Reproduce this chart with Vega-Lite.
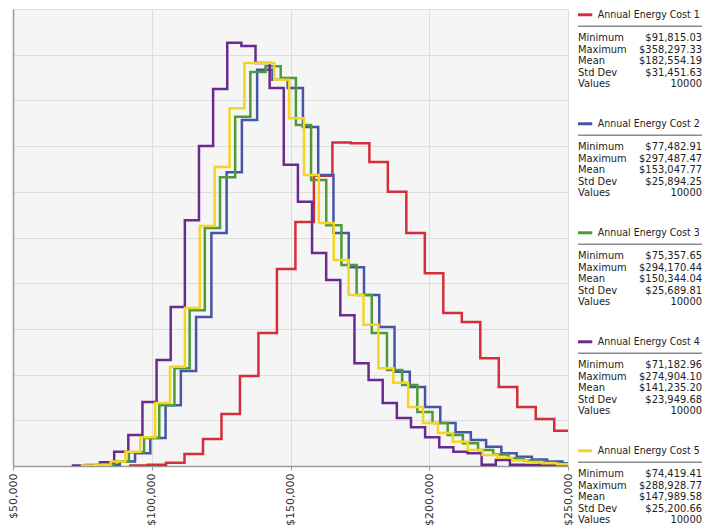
{
  "$schema": "https://vega.github.io/schema/vega-lite/v6.json",
  "padding": {"left": 7, "top": 9, "right": 2, "bottom": 0},
  "background": "white",
  "config": {"view": {"stroke": null}, "font": "DejaVu Sans"},
  "spacing": 3,
  "datasets": {
    "hist": [
      {"s": "Annual Energy Cost 1", "x": 91815.03, "d": 0.01},
      {"s": "Annual Energy Cost 1", "x": 98477.09, "d": 0.03},
      {"s": "Annual Energy Cost 1", "x": 105139.15, "d": 0.07},
      {"s": "Annual Energy Cost 1", "x": 111801.20, "d": 0.26},
      {"s": "Annual Energy Cost 1", "x": 118463.26, "d": 0.59},
      {"s": "Annual Energy Cost 1", "x": 125125.32, "d": 1.14},
      {"s": "Annual Energy Cost 1", "x": 131787.38, "d": 1.97},
      {"s": "Annual Energy Cost 1", "x": 138449.43, "d": 2.91},
      {"s": "Annual Energy Cost 1", "x": 145111.49, "d": 4.31},
      {"s": "Annual Energy Cost 1", "x": 151773.55, "d": 5.34},
      {"s": "Annual Energy Cost 1", "x": 158435.61, "d": 6.35},
      {"s": "Annual Energy Cost 1", "x": 165097.66, "d": 7.08},
      {"s": "Annual Energy Cost 1", "x": 171759.72, "d": 7.06},
      {"s": "Annual Energy Cost 1", "x": 178421.78, "d": 6.65},
      {"s": "Annual Energy Cost 1", "x": 185083.84, "d": 6.0},
      {"s": "Annual Energy Cost 1", "x": 191745.89, "d": 5.10},
      {"s": "Annual Energy Cost 1", "x": 198407.95, "d": 4.22},
      {"s": "Annual Energy Cost 1", "x": 205070.01, "d": 3.35},
      {"s": "Annual Energy Cost 1", "x": 211732.07, "d": 3.15},
      {"s": "Annual Energy Cost 1", "x": 218394.12, "d": 2.36},
      {"s": "Annual Energy Cost 1", "x": 225056.18, "d": 1.73},
      {"s": "Annual Energy Cost 1", "x": 231718.24, "d": 1.29},
      {"s": "Annual Energy Cost 1", "x": 238380.30, "d": 1.03},
      {"s": "Annual Energy Cost 1", "x": 245042.35, "d": 0.77},
      {"s": "Annual Energy Cost 1", "x": 251704.41, "d": 0.6},

      {"s": "Annual Energy Cost 2", "x": 77482.91, "d": 0.01},
      {"s": "Annual Energy Cost 2", "x": 82983.02, "d": 0.03},
      {"s": "Annual Energy Cost 2", "x": 88483.14, "d": 0.1},
      {"s": "Annual Energy Cost 2", "x": 93983.25, "d": 0.28},
      {"s": "Annual Energy Cost 2", "x": 99483.37, "d": 0.61},
      {"s": "Annual Energy Cost 2", "x": 104983.48, "d": 1.33},
      {"s": "Annual Energy Cost 2", "x": 110483.59, "d": 2.08},
      {"s": "Annual Energy Cost 2", "x": 115983.71, "d": 3.26},
      {"s": "Annual Energy Cost 2", "x": 121483.82, "d": 5.10},
      {"s": "Annual Energy Cost 2", "x": 126983.94, "d": 6.43},
      {"s": "Annual Energy Cost 2", "x": 132484.05, "d": 7.57},
      {"s": "Annual Energy Cost 2", "x": 137984.16, "d": 8.67},
      {"s": "Annual Energy Cost 2", "x": 143484.28, "d": 8.45},
      {"s": "Annual Energy Cost 2", "x": 148984.39, "d": 8.27},
      {"s": "Annual Energy Cost 2", "x": 154484.51, "d": 7.42},
      {"s": "Annual Energy Cost 2", "x": 159984.62, "d": 6.37},
      {"s": "Annual Energy Cost 2", "x": 165484.73, "d": 5.10},
      {"s": "Annual Energy Cost 2", "x": 170984.85, "d": 4.35},
      {"s": "Annual Energy Cost 2", "x": 176484.96, "d": 3.74},
      {"s": "Annual Energy Cost 2", "x": 181985.08, "d": 3.04},
      {"s": "Annual Energy Cost 2", "x": 187485.19, "d": 2.06},
      {"s": "Annual Energy Cost 2", "x": 192985.30, "d": 1.73},
      {"s": "Annual Energy Cost 2", "x": 198485.42, "d": 1.29},
      {"s": "Annual Energy Cost 2", "x": 203985.53, "d": 0.94},
      {"s": "Annual Energy Cost 2", "x": 209485.65, "d": 0.74},
      {"s": "Annual Energy Cost 2", "x": 214985.76, "d": 0.57},
      {"s": "Annual Energy Cost 2", "x": 220485.87, "d": 0.42},
      {"s": "Annual Energy Cost 2", "x": 225985.99, "d": 0.28},
      {"s": "Annual Energy Cost 2", "x": 231486.10, "d": 0.2},
      {"s": "Annual Energy Cost 2", "x": 236986.22, "d": 0.14},
      {"s": "Annual Energy Cost 2", "x": 242486.33, "d": 0.1},
      {"s": "Annual Energy Cost 2", "x": 247986.44, "d": 0.06},
      {"s": "Annual Energy Cost 2", "x": 253486.56, "d": 0.04},

      {"s": "Annual Energy Cost 3", "x": 75357.65, "d": 0.01},
      {"s": "Annual Energy Cost 3", "x": 80827.97, "d": 0.03},
      {"s": "Annual Energy Cost 3", "x": 86298.29, "d": 0.1},
      {"s": "Annual Energy Cost 3", "x": 91768.61, "d": 0.3},
      {"s": "Annual Energy Cost 3", "x": 97238.93, "d": 0.61},
      {"s": "Annual Energy Cost 3", "x": 102709.25, "d": 1.33},
      {"s": "Annual Energy Cost 3", "x": 108179.57, "d": 2.14},
      {"s": "Annual Energy Cost 3", "x": 113649.89, "d": 3.41},
      {"s": "Annual Energy Cost 3", "x": 119120.21, "d": 5.21},
      {"s": "Annual Energy Cost 3", "x": 124590.53, "d": 6.32},
      {"s": "Annual Energy Cost 3", "x": 130060.85, "d": 7.64},
      {"s": "Annual Energy Cost 3", "x": 135531.17, "d": 8.62},
      {"s": "Annual Energy Cost 3", "x": 141001.49, "d": 8.75},
      {"s": "Annual Energy Cost 3", "x": 146471.81, "d": 8.49},
      {"s": "Annual Energy Cost 3", "x": 151942.13, "d": 7.46},
      {"s": "Annual Energy Cost 3", "x": 157412.45, "d": 6.26},
      {"s": "Annual Energy Cost 3", "x": 162882.77, "d": 5.27},
      {"s": "Annual Energy Cost 3", "x": 168353.09, "d": 4.40},
      {"s": "Annual Energy Cost 3", "x": 173823.41, "d": 3.74},
      {"s": "Annual Energy Cost 3", "x": 179293.73, "d": 2.91},
      {"s": "Annual Energy Cost 3", "x": 184764.05, "d": 2.10},
      {"s": "Annual Energy Cost 3", "x": 190234.37, "d": 1.77},
      {"s": "Annual Energy Cost 3", "x": 195704.69, "d": 1.18},
      {"s": "Annual Energy Cost 3", "x": 201175.01, "d": 0.94},
      {"s": "Annual Energy Cost 3", "x": 206645.33, "d": 0.68},
      {"s": "Annual Energy Cost 3", "x": 212115.65, "d": 0.5},
      {"s": "Annual Energy Cost 3", "x": 217585.97, "d": 0.35},
      {"s": "Annual Energy Cost 3", "x": 223056.29, "d": 0.25},
      {"s": "Annual Energy Cost 3", "x": 228526.61, "d": 0.17},
      {"s": "Annual Energy Cost 3", "x": 233996.93, "d": 0.12},
      {"s": "Annual Energy Cost 3", "x": 239467.25, "d": 0.08},
      {"s": "Annual Energy Cost 3", "x": 244937.57, "d": 0.05},
      {"s": "Annual Energy Cost 3", "x": 250407.89, "d": 0.03},

      {"s": "Annual Energy Cost 4", "x": 71182.96, "d": 0.01},
      {"s": "Annual Energy Cost 4", "x": 76275.99, "d": 0.02},
      {"s": "Annual Energy Cost 4", "x": 81369.02, "d": 0.08},
      {"s": "Annual Energy Cost 4", "x": 86462.05, "d": 0.31},
      {"s": "Annual Energy Cost 4", "x": 91555.08, "d": 0.68},
      {"s": "Annual Energy Cost 4", "x": 96648.11, "d": 1.40},
      {"s": "Annual Energy Cost 4", "x": 101741.14, "d": 2.32},
      {"s": "Annual Energy Cost 4", "x": 106834.17, "d": 3.48},
      {"s": "Annual Energy Cost 4", "x": 111927.20, "d": 5.38},
      {"s": "Annual Energy Cost 4", "x": 117020.23, "d": 7.00},
      {"s": "Annual Energy Cost 4", "x": 122113.26, "d": 8.25},
      {"s": "Annual Energy Cost 4", "x": 127206.29, "d": 9.26},
      {"s": "Annual Energy Cost 4", "x": 132299.32, "d": 9.19},
      {"s": "Annual Energy Cost 4", "x": 137392.35, "d": 8.82},
      {"s": "Annual Energy Cost 4", "x": 142485.38, "d": 8.27},
      {"s": "Annual Energy Cost 4", "x": 147578.41, "d": 6.59},
      {"s": "Annual Energy Cost 4", "x": 152671.44, "d": 5.78},
      {"s": "Annual Energy Cost 4", "x": 157764.47, "d": 4.66},
      {"s": "Annual Energy Cost 4", "x": 162857.50, "d": 4.07},
      {"s": "Annual Energy Cost 4", "x": 167950.53, "d": 3.30},
      {"s": "Annual Energy Cost 4", "x": 173043.56, "d": 2.25},
      {"s": "Annual Energy Cost 4", "x": 178136.59, "d": 1.88},
      {"s": "Annual Energy Cost 4", "x": 183229.62, "d": 1.38},
      {"s": "Annual Energy Cost 4", "x": 188322.65, "d": 1.05},
      {"s": "Annual Energy Cost 4", "x": 193415.68, "d": 0.85},
      {"s": "Annual Energy Cost 4", "x": 198508.71, "d": 0.63},
      {"s": "Annual Energy Cost 4", "x": 203601.74, "d": 0.41},
      {"s": "Annual Energy Cost 4", "x": 208694.77, "d": 0.31},
      {"s": "Annual Energy Cost 4", "x": 213787.80, "d": 0.28},
      {"s": "Annual Energy Cost 4", "x": 218880.83, "d": 0.03},
      {"s": "Annual Energy Cost 4", "x": 223973.86, "d": 0.13},
      {"s": "Annual Energy Cost 4", "x": 229066.89, "d": 0.03},
      {"s": "Annual Energy Cost 4", "x": 234159.92, "d": 0.02},
      {"s": "Annual Energy Cost 4", "x": 239252.95, "d": 0.02},
      {"s": "Annual Energy Cost 4", "x": 244345.98, "d": 0.02},
      {"s": "Annual Energy Cost 4", "x": 249439.01, "d": 0.01},
      {"s": "Annual Energy Cost 4", "x": 254532.04, "d": 0.01},

      {"s": "Annual Energy Cost 5", "x": 74419.41, "d": 0.01},
      {"s": "Annual Energy Cost 5", "x": 79782.14, "d": 0.03},
      {"s": "Annual Energy Cost 5", "x": 85144.88, "d": 0.1},
      {"s": "Annual Energy Cost 5", "x": 90507.61, "d": 0.31},
      {"s": "Annual Energy Cost 5", "x": 95870.35, "d": 0.63},
      {"s": "Annual Energy Cost 5", "x": 101233.08, "d": 1.38},
      {"s": "Annual Energy Cost 5", "x": 106595.81, "d": 2.17},
      {"s": "Annual Energy Cost 5", "x": 111958.55, "d": 3.46},
      {"s": "Annual Energy Cost 5", "x": 117321.28, "d": 5.25},
      {"s": "Annual Energy Cost 5", "x": 122684.02, "d": 6.54},
      {"s": "Annual Energy Cost 5", "x": 128046.75, "d": 7.83},
      {"s": "Annual Energy Cost 5", "x": 133409.48, "d": 8.82},
      {"s": "Annual Energy Cost 5", "x": 138772.22, "d": 8.82},
      {"s": "Annual Energy Cost 5", "x": 144134.95, "d": 8.45},
      {"s": "Annual Energy Cost 5", "x": 149497.69, "d": 7.61},
      {"s": "Annual Energy Cost 5", "x": 154860.42, "d": 6.37},
      {"s": "Annual Energy Cost 5", "x": 160223.15, "d": 5.32},
      {"s": "Annual Energy Cost 5", "x": 165585.89, "d": 4.51},
      {"s": "Annual Energy Cost 5", "x": 170948.62, "d": 3.74},
      {"s": "Annual Energy Cost 5", "x": 176311.36, "d": 3.09},
      {"s": "Annual Energy Cost 5", "x": 181674.09, "d": 2.14},
      {"s": "Annual Energy Cost 5", "x": 187036.82, "d": 1.82},
      {"s": "Annual Energy Cost 5", "x": 192399.56, "d": 1.29},
      {"s": "Annual Energy Cost 5", "x": 197762.29, "d": 0.94},
      {"s": "Annual Energy Cost 5", "x": 203125.03, "d": 0.72},
      {"s": "Annual Energy Cost 5", "x": 208487.76, "d": 0.53},
      {"s": "Annual Energy Cost 5", "x": 213850.49, "d": 0.35},
      {"s": "Annual Energy Cost 5", "x": 219213.23, "d": 0.24},
      {"s": "Annual Energy Cost 5", "x": 224575.96, "d": 0.18},
      {"s": "Annual Energy Cost 5", "x": 229938.70, "d": 0.12},
      {"s": "Annual Energy Cost 5", "x": 235301.43, "d": 0.08},
      {"s": "Annual Energy Cost 5", "x": 240664.16, "d": 0.06},
      {"s": "Annual Energy Cost 5", "x": 246026.90, "d": 0.04},
      {"s": "Annual Energy Cost 5", "x": 251389.63, "d": 0.03}
    ],
    "stats": [
      {"s": "Annual Energy Cost 1", "stat": "title", "label": "Annual Energy Cost 1", "value": ""},
      {"s": "Annual Energy Cost 1", "stat": "Minimum", "label": "Minimum", "value": "$91,815.03"},
      {"s": "Annual Energy Cost 1", "stat": "Maximum", "label": "Maximum", "value": "$358,297.33"},
      {"s": "Annual Energy Cost 1", "stat": "Mean", "label": "Mean", "value": "$182,554.19"},
      {"s": "Annual Energy Cost 1", "stat": "Std Dev", "label": "Std Dev", "value": "$31,451.63"},
      {"s": "Annual Energy Cost 1", "stat": "Values", "label": "Values", "value": "10000"},
      {"s": "Annual Energy Cost 2", "stat": "title", "label": "Annual Energy Cost 2", "value": ""},
      {"s": "Annual Energy Cost 2", "stat": "Minimum", "label": "Minimum", "value": "$77,482.91"},
      {"s": "Annual Energy Cost 2", "stat": "Maximum", "label": "Maximum", "value": "$297,487.47"},
      {"s": "Annual Energy Cost 2", "stat": "Mean", "label": "Mean", "value": "$153,047.77"},
      {"s": "Annual Energy Cost 2", "stat": "Std Dev", "label": "Std Dev", "value": "$25,894.25"},
      {"s": "Annual Energy Cost 2", "stat": "Values", "label": "Values", "value": "10000"},
      {"s": "Annual Energy Cost 3", "stat": "title", "label": "Annual Energy Cost 3", "value": ""},
      {"s": "Annual Energy Cost 3", "stat": "Minimum", "label": "Minimum", "value": "$75,357.65"},
      {"s": "Annual Energy Cost 3", "stat": "Maximum", "label": "Maximum", "value": "$294,170.44"},
      {"s": "Annual Energy Cost 3", "stat": "Mean", "label": "Mean", "value": "$150,344.04"},
      {"s": "Annual Energy Cost 3", "stat": "Std Dev", "label": "Std Dev", "value": "$25,689.81"},
      {"s": "Annual Energy Cost 3", "stat": "Values", "label": "Values", "value": "10000"},
      {"s": "Annual Energy Cost 4", "stat": "title", "label": "Annual Energy Cost 4", "value": ""},
      {"s": "Annual Energy Cost 4", "stat": "Minimum", "label": "Minimum", "value": "$71,182.96"},
      {"s": "Annual Energy Cost 4", "stat": "Maximum", "label": "Maximum", "value": "$274,904.10"},
      {"s": "Annual Energy Cost 4", "stat": "Mean", "label": "Mean", "value": "$141,235.20"},
      {"s": "Annual Energy Cost 4", "stat": "Std Dev", "label": "Std Dev", "value": "$23,949.68"},
      {"s": "Annual Energy Cost 4", "stat": "Values", "label": "Values", "value": "10000"},
      {"s": "Annual Energy Cost 5", "stat": "title", "label": "Annual Energy Cost 5", "value": ""},
      {"s": "Annual Energy Cost 5", "stat": "Minimum", "label": "Minimum", "value": "$74,419.41"},
      {"s": "Annual Energy Cost 5", "stat": "Maximum", "label": "Maximum", "value": "$288,928.77"},
      {"s": "Annual Energy Cost 5", "stat": "Mean", "label": "Mean", "value": "$147,989.58"},
      {"s": "Annual Energy Cost 5", "stat": "Std Dev", "label": "Std Dev", "value": "$25,200.66"},
      {"s": "Annual Energy Cost 5", "stat": "Values", "label": "Values", "value": "10000"}
    ]
  },
  "hconcat": [
    {
      "width": 555,
      "height": 457,
      "view": {"fill": "#f5f5f5", "stroke": null},
      "data": {"name": "hist"},
      "mark": {"type": "line", "interpolate": "step-after", "strokeWidth": 2.5, "clip": true},
      "encoding": {
        "x": {
          "field": "x", "type": "quantitative",
          "scale": {"domain": [50000, 250000], "nice": false, "zero": false},
          "axis": {
            "values": [50000, 100000, 150000, 200000, 250000],
            "format": "$,d", "labelAngle": -90, "labelFlush": false,
            "labelFont": "DejaVu Sans", "labelFontSize": 11, "labelColor": "#333333",
            "title": null, "grid": true, "gridColor": "#dddddd",
            "domainColor": "#999999", "domainWidth": 1.5,
            "tickColor": "#999999", "tickSize": 4, "labelPadding": 3
          }
        },
        "y": {
          "field": "d", "type": "quantitative",
          "scale": {"domain": [0, 10], "nice": false},
          "axis": {
            "values": [0, 1, 2, 3, 4, 5, 6, 7, 8, 9, 10],
            "labels": false, "ticks": false, "title": null,
            "grid": true, "gridColor": "#dddddd",
            "domainColor": "#999999", "domainWidth": 1.5
          }
        },
        "color": {
          "field": "s", "type": "nominal",
          "scale": {
            "domain": ["Annual Energy Cost 1", "Annual Energy Cost 2", "Annual Energy Cost 3", "Annual Energy Cost 4", "Annual Energy Cost 5"],
            "range": ["#d42e3b", "#4655a8", "#4f9a36", "#6b2a8e", "#f3d623"]
          },
          "legend": null
        }
      }
    },
    {
      "data": {"name": "stats"},
      "facet": {
        "row": {
          "field": "s", "type": "nominal",
          "sort": ["Annual Energy Cost 1", "Annual Energy Cost 2", "Annual Energy Cost 3", "Annual Energy Cost 4", "Annual Energy Cost 5"],
          "header": {"labels": false, "title": null}
        }
      },
      "spacing": 28,
      "spec": {
        "width": 124,
        "height": 81,
        "view": {"fill": "white", "stroke": null},
        "encoding": {
          "y": {
            "field": "stat", "type": "ordinal",
            "scale": {"type": "point", "domain": ["title", "sep", "Minimum", "Maximum", "Mean", "Std Dev", "Values"], "padding": 0.5},
            "axis": null
          }
        },
        "layer": [
          {
            "transform": [{"filter": "datum.stat === 'title'"}],
            "mark": {"type": "rule", "strokeWidth": 3},
            "encoding": {
              "x": {"datum": 0, "type": "quantitative", "scale": {"domain": [0, 1]}, "axis": null},
              "x2": {"datum": 0.115},
              "color": {
                "field": "s", "type": "nominal",
                "scale": {
                  "domain": ["Annual Energy Cost 1", "Annual Energy Cost 2", "Annual Energy Cost 3", "Annual Energy Cost 4", "Annual Energy Cost 5"],
                  "range": ["#d42e3b", "#4655a8", "#4f9a36", "#6b2a8e", "#f3d623"]
                },
                "legend": null
              }
            }
          },
          {
            "transform": [{"filter": "datum.stat === 'title'"}],
            "mark": {"type": "text", "align": "left", "baseline": "middle", "font": "DejaVu Sans Condensed", "fontSize": 10.5, "color": "#222222"},
            "encoding": {
              "x": {"datum": 0.16, "type": "quantitative", "scale": {"domain": [0, 1]}, "axis": null},
              "text": {"field": "label"}
            }
          },
          {
            "transform": [{"filter": "datum.stat === 'title'"}],
            "mark": {"type": "rule", "strokeWidth": 1.5, "color": "#8a8a8a"},
            "encoding": {
              "x": {"datum": 0, "type": "quantitative", "scale": {"domain": [0, 1]}, "axis": null},
              "x2": {"datum": 1},
              "y": {"datum": "sep", "type": "ordinal"}
            }
          },
          {
            "transform": [{"filter": "datum.stat !== 'title'"}],
            "mark": {"type": "text", "align": "left", "baseline": "middle", "font": "DejaVu Sans Condensed", "fontSize": 11, "color": "#222222"},
            "encoding": {
              "x": {"datum": 0, "type": "quantitative", "scale": {"domain": [0, 1]}, "axis": null},
              "text": {"field": "label"}
            }
          },
          {
            "transform": [{"filter": "datum.stat !== 'title'"}],
            "mark": {"type": "text", "align": "right", "baseline": "middle", "font": "DejaVu Sans Condensed", "fontSize": 11, "color": "#222222"},
            "encoding": {
              "x": {"datum": 1, "type": "quantitative", "scale": {"domain": [0, 1]}, "axis": null},
              "text": {"field": "value"}
            }
          }
        ]
      }
    }
  ]
}
